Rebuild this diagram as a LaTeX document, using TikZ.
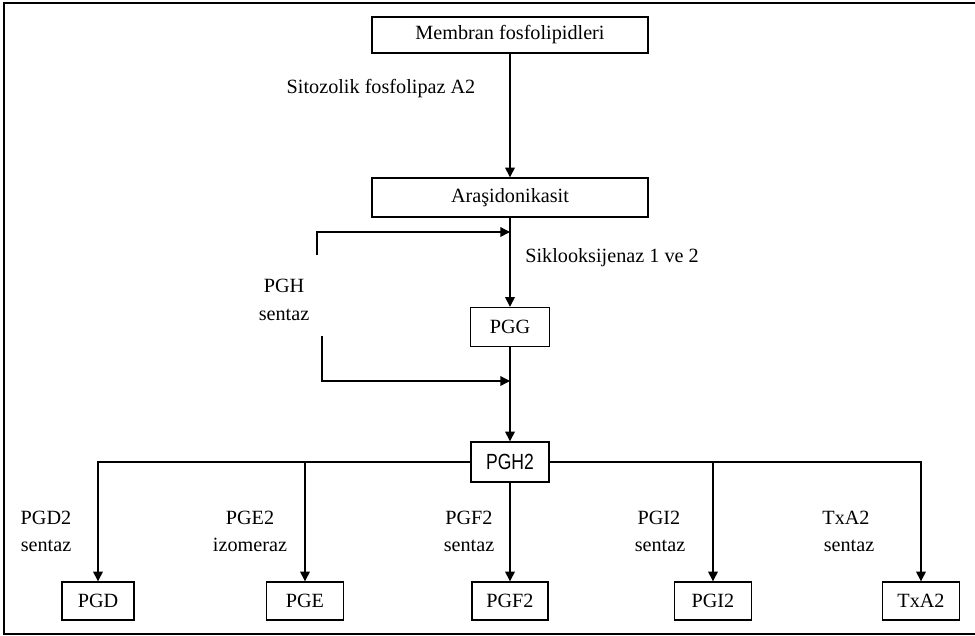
\documentclass[tikz,border=0pt]{standalone}
\usepackage{fontspec}
\usepackage{graphicx}
\setmainfont{Liberation Serif}
\setsansfont{Liberation Sans}
\usetikzlibrary{arrows.meta}
\begin{document}
\begin{tikzpicture}[x=0.02cm,y=-0.02cm,
  box/.style={draw,line width=0.8pt,inner sep=0pt,minimum height=0.76cm},
  lbl/.style={inner sep=0pt,anchor=base},
  arr/.style={line width=0.8pt,-{Triangle[length=5.5pt,width=5.5pt]}},
  font=\fontsize{11.5pt}{13pt}\selectfont]
\useasboundingbox (0,0) rectangle (975,636);
\draw[line width=1.1pt] (975,3) -- (4,3) -- (4,634) -- (975,634);
% main column
\node[box,minimum width=5.52cm,minimum height=0.72cm] (mem) at (510,35) {Membran fosfolipidleri};
\node[box,minimum width=5.52cm,minimum height=0.78cm] (ara) at (510,197.5) {Araşidonikasit};
\node[box,minimum width=1.58cm,minimum height=0.78cm] (pgg) at (510,327) {PGG};
\node[box,minimum width=1.56cm,minimum height=0.8cm] (pgh2) at (510,462) {\sffamily\fontsize{12.5pt}{14pt}\selectfont\scalebox{0.8}[1]{PGH2}};
% bottom row
\node[box,minimum width=1.44cm] (pgd) at (98,601) {PGD};
\node[box,minimum width=1.54cm] (pge) at (305,601) {PGE};
\node[box,minimum width=1.52cm] (pgf) at (510,601) {PGF2};
\node[box,minimum width=1.54cm] (pgi) at (713,601) {PGI2};
\node[box,minimum width=1.54cm] (txa) at (921,601) {TxA2};
% labels
\node[lbl] (l1) at (381,93) {Sitozolik fosfolipaz A2};
\node[lbl,anchor=base west] (l2) at (525,262) {Siklooksijenaz 1 ve 2};
\node[lbl] (l3a) at (284,292) {PGH};
\node[lbl] (l3b) at (284,320) {sentaz};
\node[lbl] (l4a) at (46,524) {PGD2};
\node[lbl] (l4b) at (46,551) {sentaz};
\node[lbl] (l5a) at (250,524) {PGE2};
\node[lbl] (l5b) at (250,551) {izomeraz};
\node[lbl] (l6a) at (469,524) {PGF2};
\node[lbl] (l6b) at (469,551) {sentaz};
\node[lbl] (l7a) at (659,524) {PGI2};
\node[lbl] (l7b) at (660,551) {sentaz};
\node[lbl] (l8a) at (846,524) {TxA2};
\node[lbl] (l8b) at (849,551) {sentaz};
% connectors
\draw[arr] (mem.south) -- (ara.north);
\draw[arr] (ara.south) -- (pgg.north);
\draw[arr] (pgg.south) -- (pgh2.north);
\coordinate (fa) at (317,255);
\coordinate (fb) at (510,232);
\draw[arr] (fa) |- (fb);
\coordinate (ga) at (322,336);
\coordinate (gb) at (510,381);
\draw[arr] (ga) |- (gb);
\draw[arr] (pgh2.west) -| (pgd.north);
\draw[arr] (pgh2.west) -| (pge.north);
\draw[arr] (pgh2.south) -- (pgf.north);
\draw[arr] (pgh2.east) -| (pgi.north);
\draw[arr] (pgh2.east) -| (txa.north);
\end{tikzpicture}
\end{document}
